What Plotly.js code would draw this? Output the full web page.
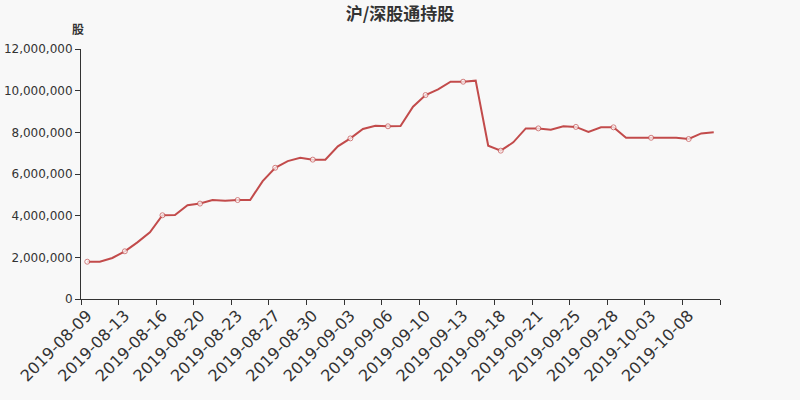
<!DOCTYPE html>
<html>
<head>
<meta charset="utf-8">
<script src="https://cdn.plot.ly/plotly-3.0.1.min.js"></script>
<style>html,body{margin:0;padding:0;background:#f8f8f8;}#chart{width:800px;height:400px;}</style>
</head>
<body>
<div id="chart"></div>
<script>
const dates = [
  "2019-08-09","2019-08-10","2019-08-12","2019-08-13","2019-08-14","2019-08-15","2019-08-16",
  "2019-08-17","2019-08-19","2019-08-20","2019-08-21","2019-08-22","2019-08-23","2019-08-24",
  "2019-08-26","2019-08-27","2019-08-28","2019-08-29","2019-08-30","2019-08-31","2019-09-02",
  "2019-09-03","2019-09-04","2019-09-05","2019-09-06","2019-09-07","2019-09-09","2019-09-10",
  "2019-09-11","2019-09-12","2019-09-13","2019-09-14","2019-09-16","2019-09-18","2019-09-19",
  "2019-09-20","2019-09-21","2019-09-23","2019-09-24","2019-09-25","2019-09-26","2019-09-27",
  "2019-09-28","2019-09-30","2019-10-02","2019-10-03","2019-10-04","2019-10-05","2019-10-08",
  "2019-10-09","2019-10-10"
];
const holdings = [
  1790000,1790000,1970000,2290000,2720000,3200000,4020000,
  4030000,4500000,4580000,4750000,4720000,4750000,4750000,
  5660000,6300000,6620000,6780000,6690000,6690000,7330000,
  7710000,8160000,8320000,8290000,8300000,9230000,9790000,
  10060000,10430000,10430000,10480000,7360000,7120000,7520000,
  8190000,8190000,8130000,8290000,8260000,8020000,8240000,
  8240000,7740000,7740000,7740000,7740000,7740000,7680000,
  7950000,8000000
];
const titleText = "沪/深股通持股";
const unitText = "股";

const markerSizes = dates.map((d, i) => (i % 3 === 0 ? 5 : 0));

const trace = {
  type: "scatter",
  mode: "lines+markers",
  x: dates,
  y: holdings,
  line: {color: "#c24b4b", width: 2},
  marker: {size: markerSizes, color: "#ffffff", line: {color: "#c24b4b", width: 1}},
  hoverinfo: "x+y"
};

const layout = {
  width: 800, height: 400,
  paper_bgcolor: "#f8f8f8", plot_bgcolor: "#f8f8f8",
  margin: {l: 81, r: 80, t: 49, b: 101},
  showlegend: false,
  title: {
    text: "<b>" + titleText + "</b>",
    x: 0.5, xanchor: "center", y: 0.965, yanchor: "middle",
    font: {family: "Noto Sans CJK SC, DejaVu Sans, sans-serif", size: 17, color: "#333333"}
  },
  xaxis: {
    type: "category",
    range: [-0.5, dates.length - 0.5],
    dtick: 3,
    tickson: "boundaries",
    ticks: "outside", ticklen: 5, tickcolor: "#333333",
    showline: true, linecolor: "#333333", linewidth: 1,
    showgrid: false, zeroline: false,
    tickangle: -45,
    tickfont: {family: "DejaVu Sans, sans-serif", size: 16, color: "#333333"}
  },
  yaxis: {
    range: [0, 12000000],
    tickvals: [0, 2000000, 4000000, 6000000, 8000000, 10000000, 12000000],
    ticktext: ["0", "2,000,000", "4,000,000", "6,000,000", "8,000,000", "10,000,000", "12,000,000"],
    ticks: "outside", ticklen: 5, tickcolor: "#333333",
    showline: true, linecolor: "#333333", linewidth: 1,
    showgrid: false, zeroline: false,
    tickfont: {family: "DejaVu Sans, sans-serif", size: 12, color: "#333333"}
  },
  annotations: [{
    text: "<b>" + unitText + "</b>", xref: "paper", yref: "paper",
    x: -0.005, y: 1.08, xanchor: "center", yanchor: "middle",
    showarrow: false,
    font: {family: "Noto Sans CJK SC, DejaVu Sans, sans-serif", size: 12, color: "#333333"}
  }]
};

Plotly.newPlot("chart", [trace], layout, {displayModeBar: false, responsive: false});
</script>
</body>
</html>
